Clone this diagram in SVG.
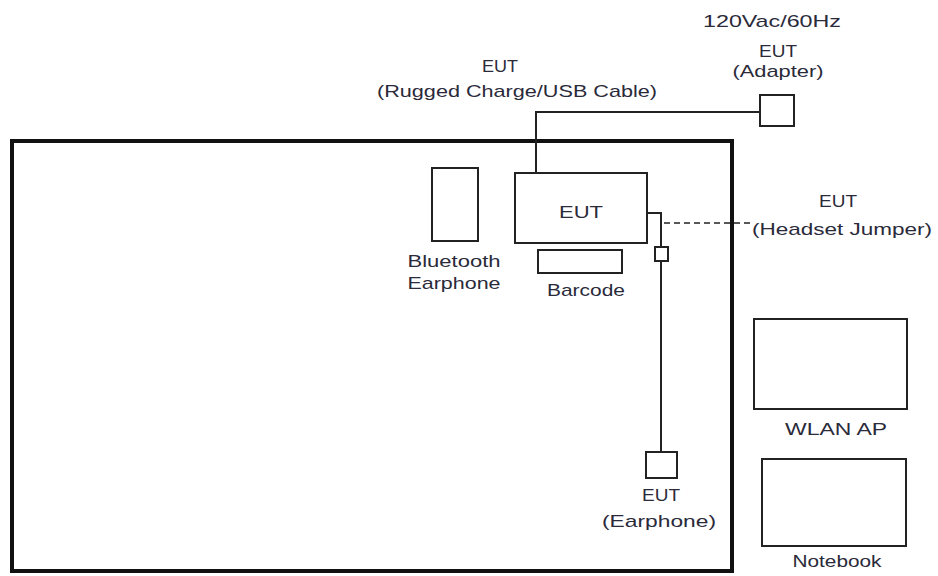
<svg xmlns="http://www.w3.org/2000/svg" width="938" height="576" viewBox="0 0 938 576">
<style>
.box{fill:#fff;stroke:#222;stroke-width:2}
.ln{fill:none;stroke:#222;stroke-width:2}
.dash{fill:none;stroke:#222;stroke-width:1.6;stroke-dasharray:6 4}
text{font-family:"Liberation Sans",Arial,sans-serif;font-size:17px;fill:#2a2a3a;text-anchor:middle}
</style>
<rect width="938" height="576" fill="#fff"/>
<g id="room"><rect x="12" y="141" width="720" height="430" fill="none" stroke="#111" stroke-width="4"/></g>
<g id="connectors">
<polyline class="ln" points="536,173 536,112 760,112"/>
<polyline class="ln" points="647,213 661,213 661,247"/>
<line class="ln" x1="661" y1="261" x2="661" y2="452"/>
<line class="dash" x1="664" y1="223" x2="752" y2="223"/>
</g>
<g id="eut"><rect class="box" x="515" y="173" width="132" height="70"/><text x="581" y="218" textLength="44" lengthAdjust="spacingAndGlyphs">EUT</text></g>
<g id="adapter"><rect class="box" x="760" y="95" width="34" height="31"/>
<text x="772" y="27" textLength="138" lengthAdjust="spacingAndGlyphs">120Vac/60Hz</text>
<text x="778" y="57" textLength="38" lengthAdjust="spacingAndGlyphs">EUT</text>
<text x="778" y="77" textLength="91" lengthAdjust="spacingAndGlyphs">(Adapter)</text></g>
<g id="cable"><text x="500" y="72" textLength="36" lengthAdjust="spacingAndGlyphs">EUT</text>
<text x="517" y="97" textLength="280" lengthAdjust="spacingAndGlyphs">(Rugged Charge/USB Cable)</text></g>
<g id="bluetooth"><rect class="box" x="432" y="168" width="46" height="73"/>
<text x="454" y="267" textLength="93" lengthAdjust="spacingAndGlyphs">Bluetooth</text>
<text x="454" y="289" textLength="93" lengthAdjust="spacingAndGlyphs">Earphone</text></g>
<g id="barcode"><rect class="box" x="538" y="250" width="84" height="23"/><text x="586" y="296" textLength="78" lengthAdjust="spacingAndGlyphs">Barcode</text></g>
<g id="jumper"><rect class="box" x="655" y="247" width="13" height="14"/>
<text x="838" y="207" textLength="38" lengthAdjust="spacingAndGlyphs">EUT</text>
<text x="842" y="235" textLength="180" lengthAdjust="spacingAndGlyphs">(Headset Jumper)</text></g>
<g id="earphone"><rect class="box" x="646" y="452" width="31" height="26"/>
<text x="661" y="501" textLength="38" lengthAdjust="spacingAndGlyphs">EUT</text>
<text x="659" y="527" textLength="114" lengthAdjust="spacingAndGlyphs">(Earphone)</text></g>
<g id="wlan"><rect class="box" x="754" y="319" width="153" height="90"/><text x="836" y="435" textLength="102" lengthAdjust="spacingAndGlyphs">WLAN AP</text></g>
<g id="notebook"><rect class="box" x="762" y="459" width="144" height="87"/><text x="837" y="567" textLength="89" lengthAdjust="spacingAndGlyphs">Notebook</text></g>
</svg>
